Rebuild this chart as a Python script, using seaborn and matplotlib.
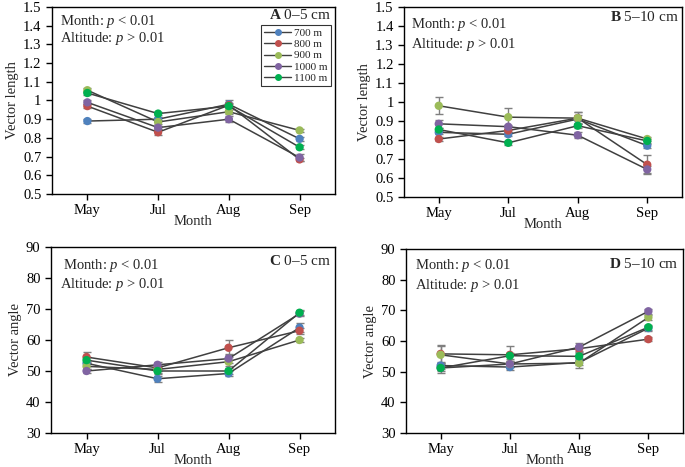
import matplotlib
matplotlib.use("Agg")
import matplotlib.pyplot as plt
import numpy as np
import pandas as pd
import seaborn as sns
from matplotlib.lines import Line2D

months = ["May", "Jul", "Aug", "Sep"]
altitudes = ["700 m", "800 m", "900 m", "1000 m", "1100 m"]
colors = ["#4f81bd", "#c0504d", "#9bbb59", "#8064a2", "#00b050"]

# panel A: vector length 0-5 cm (rows = altitude, cols = month)
len_0_5 = [
    [0.89, 0.90, 0.98, 0.795],
    [0.97, 0.83, 0.975, 0.685],
    [1.055, 0.885, 0.94, 0.84],
    [0.99, 0.855, 0.90, 0.695],
    [1.04, 0.93, 0.97, 0.75],
]
len_0_5_err = [
    [0.01, 0.01, 0.02, 0.01],
    [0.01, 0.015, 0.01, 0.01],
    [0.01, 0.01, 0.01, 0.01],
    [0.01, 0.01, 0.015, 0.02],
    [0.01, 0.01, 0.01, 0.01],
]
# panel B: vector length 5-10 cm
len_5_10 = [
    [0.84, 0.83, 0.91, 0.77],
    [0.805, 0.85, 0.915, 0.67],
    [0.98, 0.92, 0.915, 0.805],
    [0.885, 0.87, 0.825, 0.645],
    [0.855, 0.785, 0.875, 0.795],
]
len_5_10_err = [
    [0.01, 0.01, 0.02, 0.01],
    [0.01, 0.01, 0.03, 0.05],
    [0.045, 0.05, 0.03, 0.01],
    [0.02, 0.01, 0.015, 0.02],
    [0.01, 0.01, 0.01, 0.01],
]
# panel C: vector angle 0-5 cm
ang_0_5 = [
    [52.5, 47.5, 49.2, 64.0],
    [54.5, 51.0, 57.5, 63.0],
    [51.5, 50.5, 53.0, 60.0],
    [50.0, 52.0, 54.0, 68.5],
    [53.5, 50.0, 50.0, 68.8],
]
ang_0_5_err = [
    [1.0, 1.0, 0.8, 1.5],
    [1.5, 1.0, 2.5, 1.0],
    [1.0, 1.0, 1.5, 0.8],
    [0.8, 0.8, 1.5, 0.8],
    [1.0, 1.0, 1.0, 0.8],
]
# panel D: vector angle 5-10 cm
ang_5_10 = [
    [52.0, 51.5, 53.0, 64.2],
    [55.8, 55.5, 57.5, 60.6],
    [55.5, 52.5, 52.8, 67.7],
    [51.2, 52.5, 58.0, 69.7],
    [51.2, 55.2, 55.0, 64.5],
]
ang_5_10_err = [
    [1.0, 1.0, 0.8, 0.8],
    [3.0, 3.0, 1.0, 0.6],
    [3.0, 1.0, 1.5, 0.8],
    [1.0, 1.0, 1.2, 0.8],
    [1.5, 1.0, 1.0, 0.8],
]

panels = [
    ("A", "0\u20135 cm", len_0_5, len_0_5_err, "Vector length", (0.5, 1.5), 0.1),
    ("B", "5\u201310 cm", len_5_10, len_5_10_err, "Vector length", (0.5, 1.5), 0.1),
    ("C", "0\u20135 cm", ang_0_5, ang_0_5_err, "Vector angle", (30, 90), 10),
    ("D", "5\u201310 cm", ang_5_10, ang_5_10_err, "Vector angle", (30, 90), 10),
]

# axes rectangles (fig fraction) and text anchors
rects = [
    [0.0759, 0.5846, 0.4131, 0.4004],
    [0.5898, 0.5782, 0.4058, 0.4069],
    [0.0745, 0.0728, 0.4146, 0.3983],
    [0.5927, 0.0728, 0.4044, 0.3940],
]
stat_pos = [
    [(0.028, 0.92), (0.028, 0.834)],
    [(0.025, 0.91), (0.025, 0.805)],
    [(0.042, 0.903), (0.032, 0.796)],
    [(0.032, 0.908), (0.032, 0.80)],
]
title_pos = [(0.985, 0.955), (0.99, 0.945), (0.985, 0.925), (0.985, 0.92)]

sns.set_style("white")
plt.rcParams["font.family"] = ["Liberation Serif", "DejaVu Serif"]
plt.rcParams["mathtext.fontset"] = "custom"
plt.rcParams["mathtext.rm"] = "Liberation Serif"
plt.rcParams["mathtext.it"] = "Liberation Serif:italic"
plt.rcParams["mathtext.bf"] = "Liberation Serif:bold"

fig = plt.figure(figsize=(6.85, 4.67), dpi=100)
line_col = "#404040"

for i, (letter, depth, vals, errs, ylab, ylim, step) in enumerate(panels):
    ax = fig.add_axes(rects[i])
    rows = []
    for a, alt in enumerate(altitudes):
        for m, mon in enumerate(months):
            rows.append({"alt": alt, "pos": m, "month": mon,
                         "val": vals[a][m], "err": errs[a][m]})
    df = pd.DataFrame(rows)

    # error bars behind
    ax.errorbar(df["pos"], df["val"], yerr=df["err"], fmt="none",
                ecolor="#7f7f7f", elinewidth=1, capsize=3, capthick=1, zorder=1)
    sns.lineplot(data=df, x="pos", y="val", units="alt", estimator=None,
                 color=line_col, lw=1.1, ax=ax, zorder=2, legend=False)
    sns.scatterplot(data=df, x="pos", y="val", hue="alt", hue_order=altitudes,
                    palette=colors, s=36, edgecolor="none", ax=ax, zorder=3,
                    legend=False)

    ax.set_xlim(-0.5, 3.5)
    ax.set_ylim(*ylim)
    ax.set_yticks(np.round(np.arange(ylim[0], ylim[1] + step / 2, step), 2))
    if step < 1:
        ax.set_yticklabels([("%g" % t) for t in ax.get_yticks()])
    ax.set_xticks(range(len(months)))
    ax.set_xticklabels(months)
    ax.tick_params(axis="both", direction="out", length=4, width=1,
                   labelsize=10.5, colors="black", bottom=True, left=True)
    for s in ax.spines.values():
        s.set_visible(True)
        s.set_color("black")
        s.set_linewidth(1)
    ax.set_xlabel("Month", fontsize=10.5, labelpad=-2)
    ax.set_ylabel(ylab, fontsize=10.5, labelpad=3)

    (mx, my), (ax_, ay) = stat_pos[i]
    ax.text(mx, my, r"Month: $p$ < 0.01", transform=ax.transAxes,
            fontsize=10.5, va="center", ha="left")
    ax.text(ax_, ay, r"Altitude: $p$ > 0.01", transform=ax.transAxes,
            fontsize=10.5, va="center", ha="left")
    tx, ty = title_pos[i]
    ax.text(tx, ty, r"$\mathbf{%s}$ %s" % (letter, depth), transform=ax.transAxes,
            fontsize=11, va="center", ha="right")

    if letter == "A":
        handles = [Line2D([0], [0], color=line_col, lw=1.0, marker="o",
                          markersize=4, markerfacecolor=c, markeredgecolor=c)
                   for c in colors]
        leg = ax.legend(handles, altitudes, loc="upper right",
                        bbox_to_anchor=(0.995, 0.915), fontsize=8,
                        frameon=True, fancybox=False, handlelength=2.4,
                        handletextpad=0.3, labelspacing=0.12,
                        borderpad=0.3, borderaxespad=0.2)
        leg.get_frame().set_edgecolor("black")
        leg.get_frame().set_linewidth(0.8)

fig.savefig("out.png", dpi=100)
